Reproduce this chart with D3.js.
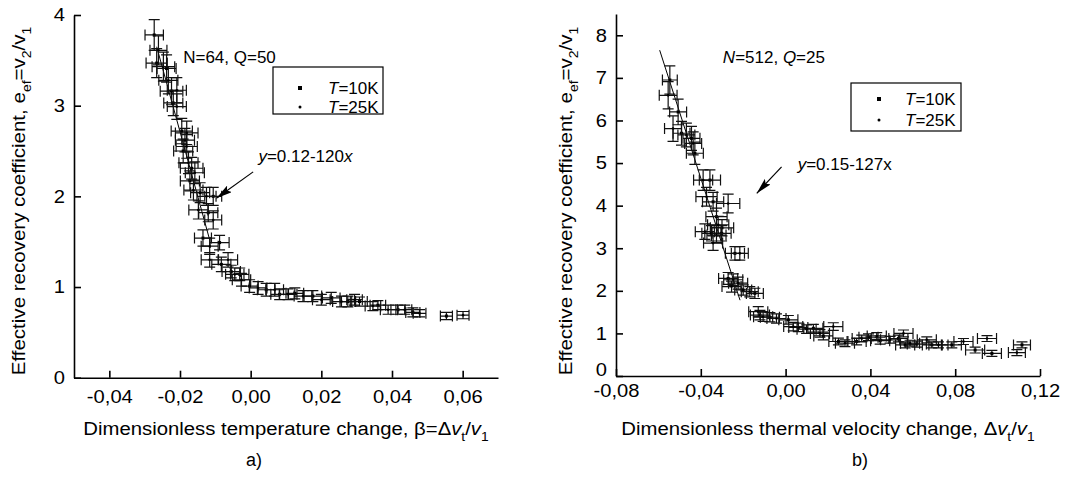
<!DOCTYPE html>
<html>
<head>
<meta charset="utf-8">
<script src="https://cdn.jsdelivr.net/npm/d3@7"></script>
<style>
  body { margin: 0; background: #fff; }
  svg { font-family: "Liberation Sans", Arial, sans-serif; }
  .axis path, .axis line { stroke: #000; stroke-width: 1.6; }
  .axis text { fill: #000; font-family: "Liberation Sans", Arial, sans-serif; }
</style>
</head>
<body>
<svg id="chart" width="1080" height="477"></svg>
<script>
// panel a) : [x, y, xerr, yerr]
var a10K = [
  [-0.0273, 3.78, 0.0026, 0.17], [-0.0266, 3.47, 0.0030, 0.16], [-0.0238, 3.41, 0.0027, 0.15],
  [-0.0224, 3.16, 0.0032, 0.15], [-0.0219, 3.03, 0.0027, 0.14], [-0.0195, 2.72, 0.0030, 0.14],
  [-0.0186, 2.62, 0.0027, 0.13], [-0.0191, 2.50, 0.0027, 0.13], [-0.0167, 2.31, 0.0032, 0.12],
  [-0.0172, 2.17, 0.0027, 0.11], [-0.0143, 2.04, 0.0027, 0.11], [-0.0106, 2.00, 0.0024, 0.10],
  [-0.0120, 1.82, 0.0027, 0.10], [-0.0135, 1.54, 0.0024, 0.09], [-0.0088, 1.49, 0.0027, 0.08],
  [-0.0083, 1.25, 0.0027, 0.08], [-0.0055, 1.17, 0.0026, 0.07], [-0.0031, 1.14, 0.0026, 0.07],
  [-0.0003, 1.01, 0.0024, 0.07], [0.0044, 0.97, 0.0025, 0.07], [0.0082, 0.92, 0.0025, 0.06],
  [0.0125, 0.93, 0.0025, 0.06], [0.0176, 0.90, 0.0025, 0.06], [0.0228, 0.88, 0.0025, 0.06],
  [0.0275, 0.84, 0.0022, 0.06], [0.0308, 0.84, 0.0022, 0.05], [0.0360, 0.80, 0.0022, 0.05],
  [0.0417, 0.75, 0.0020, 0.05], [0.0459, 0.72, 0.0020, 0.05], [0.0554, 0.68, 0.0017, 0.04]
];
var a25K = [
  [-0.0261, 3.61, 0.0024, 0.16], [-0.0247, 3.43, 0.0032, 0.16], [-0.0233, 3.28, 0.0027, 0.15],
  [-0.0209, 3.17, 0.0027, 0.14], [-0.0209, 2.99, 0.0027, 0.14], [-0.0181, 2.70, 0.0032, 0.13],
  [-0.0181, 2.55, 0.0030, 0.13], [-0.0176, 2.37, 0.0027, 0.12], [-0.0158, 2.26, 0.0027, 0.12],
  [-0.0162, 2.07, 0.0027, 0.11], [-0.0125, 2.00, 0.0027, 0.10], [-0.0148, 1.85, 0.0027, 0.10],
  [-0.0106, 1.74, 0.0024, 0.10], [-0.0116, 1.45, 0.0024, 0.09], [-0.0116, 1.30, 0.0024, 0.08],
  [-0.0064, 1.30, 0.0027, 0.08], [-0.0045, 1.14, 0.0026, 0.07], [-0.0026, 1.08, 0.0026, 0.07],
  [0.0021, 0.99, 0.0025, 0.07], [0.0068, 0.97, 0.0025, 0.07], [0.0106, 0.92, 0.0025, 0.06],
  [0.0148, 0.90, 0.0025, 0.06], [0.0200, 0.86, 0.0025, 0.06], [0.0257, 0.84, 0.0025, 0.06],
  [0.0294, 0.86, 0.0022, 0.06], [0.0346, 0.79, 0.0022, 0.05], [0.0389, 0.75, 0.0022, 0.05],
  [0.0436, 0.75, 0.0020, 0.05], [0.0478, 0.71, 0.0018, 0.04], [0.0601, 0.69, 0.0017, 0.04]
];
var aFit = [[-0.0266, 3.65], [-0.0116, 1.52]];
var aArrow = [[0.0007, 2.27], [-0.0097, 1.98]];
var aXTicks = [-0.04, -0.02, 0.00, 0.02, 0.04, 0.06];
var aYTicks = [0, 1, 2, 3, 4];

// panel b)
var b10K = [
  [-0.0546, 6.95, 0.0035, 0.33], [-0.0507, 6.20, 0.0040, 0.30], [-0.0491, 5.70, 0.0040, 0.28],
  [-0.0444, 5.58, 0.0040, 0.28], [-0.0428, 5.23, 0.0040, 0.26], [-0.0357, 4.60, 0.0050, 0.24],
  [-0.0342, 4.09, 0.0050, 0.22], [-0.0326, 3.74, 0.0050, 0.20], [-0.0300, 3.48, 0.0055, 0.19],
  [-0.0350, 3.35, 0.0045, 0.18], [-0.0302, 3.35, 0.0045, 0.18], [-0.0239, 2.88, 0.0045, 0.16],
  [-0.0271, 2.29, 0.0045, 0.14], [-0.0224, 2.18, 0.0045, 0.14], [-0.0200, 2.02, 0.0040, 0.12],
  [-0.0145, 1.94, 0.0040, 0.12], [-0.0121, 1.43, 0.0045, 0.11], [-0.0074, 1.38, 0.0045, 0.11],
  [0.0013, 1.32, 0.0045, 0.10], [0.0060, 1.14, 0.0045, 0.10], [0.0131, 1.12, 0.0045, 0.09],
  [0.0178, 0.94, 0.0045, 0.09], [0.0249, 0.81, 0.0045, 0.08], [0.0335, 0.81, 0.0045, 0.08],
  [0.0391, 0.91, 0.0045, 0.08], [0.0446, 0.83, 0.0045, 0.08], [0.0532, 0.88, 0.0045, 0.08],
  [0.0564, 0.73, 0.0045, 0.07], [0.0619, 0.75, 0.0045, 0.07], [0.0690, 0.73, 0.0045, 0.07],
  [0.0784, 0.73, 0.0045, 0.07], [0.0894, 0.61, 0.0045, 0.07], [0.0973, 0.53, 0.0045, 0.07],
  [0.1115, 0.73, 0.0040, 0.07]
];
var b25K = [
  [-0.0554, 6.59, 0.0042, 0.32], [-0.0531, 5.81, 0.0040, 0.30], [-0.0468, 5.66, 0.0040, 0.28],
  [-0.0436, 5.46, 0.0040, 0.27], [-0.0389, 4.60, 0.0045, 0.24], [-0.0373, 4.21, 0.0050, 0.22],
  [-0.0271, 4.05, 0.0055, 0.22], [-0.0318, 3.55, 0.0050, 0.20], [-0.0381, 3.39, 0.0045, 0.18],
  [-0.0326, 3.31, 0.0045, 0.18], [-0.0342, 3.12, 0.0045, 0.17], [-0.0216, 2.88, 0.0040, 0.16],
  [-0.0247, 2.26, 0.0045, 0.14], [-0.0255, 2.10, 0.0045, 0.13], [-0.0169, 1.98, 0.0040, 0.12],
  [-0.0129, 1.51, 0.0045, 0.12], [-0.0106, 1.39, 0.0045, 0.11], [-0.0043, 1.35, 0.0045, 0.11],
  [0.0036, 1.16, 0.0045, 0.10], [0.0099, 1.10, 0.0045, 0.10], [0.0162, 1.00, 0.0045, 0.09],
  [0.0225, 1.16, 0.0045, 0.09], [0.0280, 0.77, 0.0045, 0.08], [0.0359, 0.88, 0.0045, 0.08],
  [0.0430, 0.94, 0.0045, 0.08], [0.0493, 0.85, 0.0045, 0.08], [0.0556, 1.00, 0.0045, 0.08],
  [0.0587, 0.77, 0.0045, 0.07], [0.0666, 0.85, 0.0045, 0.07], [0.0721, 0.73, 0.0045, 0.07],
  [0.0839, 0.81, 0.0045, 0.07], [0.0950, 0.88, 0.0045, 0.07], [0.1091, 0.55, 0.0040, 0.07]
];
var bFit = [[-0.0594, 7.65], [-0.0215, 1.78]];
var bArrow = [[-0.0019, 4.91], [-0.0136, 4.29]];
var bXTicks = [-0.08, -0.04, 0.00, 0.04, 0.08, 0.12];
var bYTicks = [0, 1, 2, 3, 4, 5, 6, 7, 8];

var fmt = d3.formatLocale({decimal: ",", thousands: ".", grouping: [3], currency: ["", ""], minus: "-"}).format(".2f");

var svg = d3.select("#chart");

svg.append("defs").append("marker")
    .attr("id", "head")
    .attr("markerUnits", "userSpaceOnUse")
    .attr("viewBox", "0 0 16 8")
    .attr("refX", 16).attr("refY", 4)
    .attr("markerWidth", 16).attr("markerHeight", 8)
    .attr("orient", "auto")
  .append("path")
    .attr("d", "M0,0 L16,4 L0,8 L3,4 Z")
    .attr("fill", "#000");

// text with sub/italic parts, optionally stretched horizontally
function richText(parent, parts, x, y, o) {
  var tr = "translate(" + x + "," + y + ")";
  if (o.rotate) tr += " rotate(" + o.rotate + ")";
  if (o.sx) tr += " scale(" + o.sx + ",1)";
  var t = parent.append("text")
      .attr("transform", tr)
      .attr("font-size", o.size)
      .attr("text-anchor", o.anchor || "start");
  var shift = 0;
  parts.forEach(function(p) {
    var ts = t.append("tspan").text(p.t);
    var target = p.sub ? 0.3 * o.size : 0;
    if (target - shift !== 0) ts.attr("dy", target - shift);
    shift = target;
    if (p.sub) ts.attr("font-size", o.size * 0.68);
    if (p.it) ts.attr("font-style", "italic");
  });
  return t;
}

function drawPanel(c) {
  var g = svg.append("g");
  var x = d3.scaleLinear().domain(c.xDomain).range([c.left, c.right]);
  var y = d3.scaleLinear().domain(c.yDomain).range([c.bottom, c.top]);

  var xa = g.append("g").attr("class", "axis")
      .attr("transform", "translate(0," + c.bottom + ")")
      .call(d3.axisBottom(x).tickValues(c.xTicks).tickFormat(fmt)
        .tickSizeInner(-7).tickSizeOuter(0).tickPadding(c.xPad));
  xa.selectAll(".tick text").attr("font-size", 18).each(function() {
    var t = d3.select(this), yy = +t.attr("y");
    t.attr("y", 0).attr("transform", "translate(0," + yy + ") scale(1.12,1)");
  });

  var ya = g.append("g").attr("class", "axis")
      .attr("transform", "translate(" + c.left + ",0)")
      .call(d3.axisLeft(y).tickValues(c.yTicks).tickFormat(d3.format("d"))
        .tickSizeInner(-7).tickSizeOuter(0).tickPadding(9));
  ya.selectAll(".tick text").attr("font-size", 18).each(function(d) {
    var t = d3.select(this), xx = +t.attr("x");
    var lift = d === 0 ? c.zeroLift : 0;
    t.attr("x", 0).attr("transform", "translate(" + xx + "," + (-lift) + ") scale(1.12,1)");
  });

  // fit line
  g.append("path")
      .attr("d", d3.line().x(function(d) { return x(d[0]); }).y(function(d) { return y(d[1]); })(c.fit))
      .attr("stroke", "#000").attr("stroke-width", 1).attr("fill", "none");

  // error bars + markers
  var cap = 5.5;
  c.series.forEach(function(s) {
    var pts = g.append("g").selectAll("g").data(s.data).enter().append("g");
    pts.append("path")
        .attr("fill", "none").attr("stroke", "#111").attr("stroke-width", 1.2)
        .attr("d", function(d) {
          var cx = x(d[0]), cy = y(d[1]);
          var x0 = x(d[0] - d[2]), x1 = x(d[0] + d[2]);
          var y0 = y(d[1] - d[3]), y1 = y(d[1] + d[3]);
          return "M" + x0 + "," + cy + "H" + x1 +
                 "M" + x0 + "," + (cy - cap) + "V" + (cy + cap) +
                 "M" + x1 + "," + (cy - cap) + "V" + (cy + cap) +
                 "M" + cx + "," + y0 + "V" + y1 +
                 "M" + (cx - cap) + "," + y0 + "H" + (cx + cap) +
                 "M" + (cx - cap) + "," + y1 + "H" + (cx + cap);
        });
    if (s.square) {
      pts.append("rect")
          .attr("x", function(d) { return x(d[0]) - 1.5; })
          .attr("y", function(d) { return y(d[1]) - 1.5; })
          .attr("width", 3).attr("height", 3).attr("fill", "#000");
    } else {
      pts.append("circle")
          .attr("cx", function(d) { return x(d[0]); })
          .attr("cy", function(d) { return y(d[1]); })
          .attr("r", 1.3).attr("fill", "#000");
    }
  });

  // arrow
  g.append("line")
      .attr("x1", x(c.arrow[0][0])).attr("y1", y(c.arrow[0][1]))
      .attr("x2", x(c.arrow[1][0])).attr("y2", y(c.arrow[1][1]))
      .attr("stroke", "#000").attr("stroke-width", 1.2)
      .attr("marker-end", "url(#head)");

  richText(g, c.eq, x(c.eqPos[0]), y(c.eqPos[1]), {size: 17});
  richText(g, c.note, x(c.notePos[0]), y(c.notePos[1]), {size: 17});

  // legend
  var L = c.legend;
  g.append("rect").attr("x", L.x).attr("y", L.y).attr("width", L.w).attr("height", L.h)
      .attr("fill", "#fff").attr("stroke", "#000").attr("stroke-width", 1.2);
  g.append("rect").attr("x", L.mx - 2).attr("y", L.y + L.r1 - 2).attr("width", 4).attr("height", 4).attr("fill", "#000");
  g.append("circle").attr("cx", L.mx).attr("cy", L.y + L.r2).attr("r", 1.5).attr("fill", "#000");
  richText(g, [{t: "T", it: true}, {t: "=10K"}], L.tx, L.y + L.r1 + 6, {size: 17});
  richText(g, [{t: "T", it: true}, {t: "=25K"}], L.tx, L.y + L.r2 + 6, {size: 17});

  // axis titles
  richText(g, c.xTitle, (c.left + c.right) / 2, 435, {size: 19, anchor: "middle", sx: 1.07});
  richText(g, c.yTitle, c.yTitleX, 201, {size: 19, anchor: "middle", rotate: -90, sx: 1.08});
  richText(g, [{t: c.tag}], c.tagX, 466, {size: 18, anchor: "middle"});
}

var yTitle = [
  {t: "Effective recovery coefficient, e"}, {t: "ef", sub: true}, {t: "=v"}, {t: "2", sub: true},
  {t: "/v"}, {t: "1", sub: true}
];

drawPanel({
  left: 74, right: 498, top: 15, bottom: 377.7,
  xDomain: [-0.05, 0.07], yDomain: [0, 4],
  xTicks: aXTicks, yTicks: aYTicks, xPad: 13, zeroLift: 0,
  series: [{data: a10K, square: true}, {data: a25K, square: false}],
  fit: aFit, arrow: aArrow,
  eq: [{t: "y", it: true}, {t: "=0.12-120"}, {t: "x", it: true}], eqPos: [0.0022, 2.38],
  note: [{t: "N=64,  Q=50"}], notePos: [-0.0191, 3.47],
  legend: {x: 273, y: 67, w: 110, h: 47, mx: 300, tx: 328, r1: 21, r2: 40},
  xTitle: [{t: "Dimensionless temperature change, \u03b2=\u0394"}, {t: "v", it: true}, {t: "t", sub: true},
           {t: "/"}, {t: "v", it: true}, {t: "1", sub: true}],
  yTitle: yTitle, yTitleX: 25,
  tag: "a)", tagX: 254
});

drawPanel({
  left: 616, right: 1040, top: 14, bottom: 376,
  xDomain: [-0.08, 0.12], yDomain: [0, 8.5],
  xTicks: bXTicks, yTicks: bYTicks, xPad: 8, zeroLift: 6,
  series: [{data: b10K, square: true}, {data: b25K, square: false}],
  fit: bFit, arrow: bArrow,
  eq: [{t: "y", it: true}, {t: "=0.15-127x"}], eqPos: [0.0057, 4.84],
  note: [{t: "N", it: true}, {t: "=512,  "}, {t: "Q", it: true}, {t: "=25"}], notePos: [-0.0296, 7.35],
  legend: {x: 851, y: 83, w: 110, h: 48, mx: 879, tx: 905, r1: 16, r2: 37},
  xTitle: [{t: "Dimensionless thermal velocity change, \u0394"}, {t: "v", it: true}, {t: "t", sub: true},
           {t: "/"}, {t: "v", it: true}, {t: "1", sub: true}],
  yTitle: yTitle, yTitleX: 572,
  tag: "b)", tagX: 860
});
</script>
</body>
</html>
